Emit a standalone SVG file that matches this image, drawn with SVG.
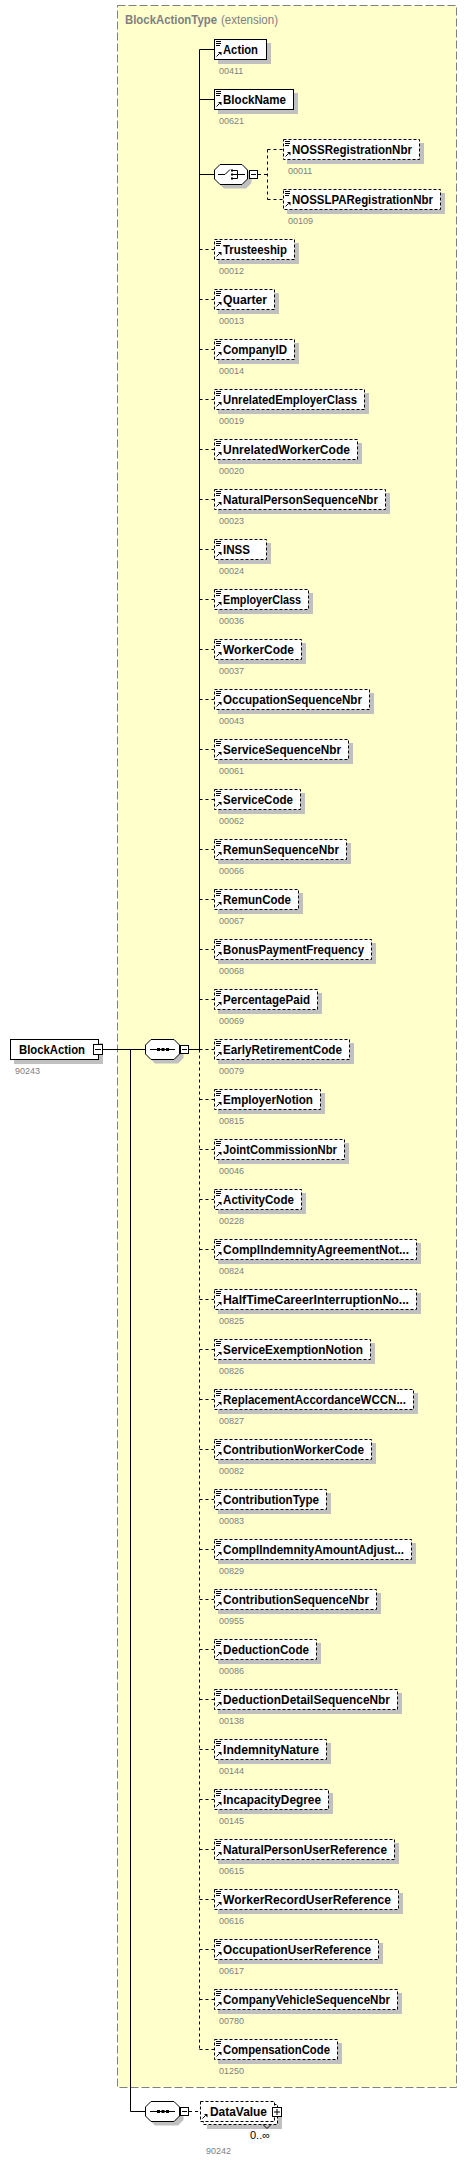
<svg xmlns="http://www.w3.org/2000/svg" xmlns:xlink="http://www.w3.org/1999/xlink" width="473" height="2163" viewBox="0 0 473 2163">
<style>
.box{fill:#fff;stroke:#000;stroke-width:1}
.opt{stroke-dasharray:3,2}
.sh{fill:#c0c0c0}
.nm{font-family:"Liberation Sans",Arial,sans-serif;font-weight:bold;font-size:12.5px;fill:#000}
.lb{font-family:"Liberation Sans",Arial,sans-serif;font-size:9px;fill:#808080}
.ln{stroke:#000;stroke-width:1;fill:none}
.dl{stroke-dasharray:3,3}
.ttl{font-family:"Liberation Sans",Arial,sans-serif;font-size:12.5px;fill:#808080}
</style>
<defs>
<g id="arr"><path class="ln" d="M2.5,17.5L5.5,14.5"/><path d="M4,13H7.5V16.5Z" fill="#000"/></g>
<g id="ico"><path class="ln" d="M2,2.5H7M2,4.5H7M2,6.5H6"/><use xlink:href="#arr"/></g>
<path id="oct35" d="M6,0.5H29L34.5,6V15L29,20.5H6L0.5,15V6Z"/>
<path id="oct34" d="M6,0.5H28L33.5,6V15L28,20.5H6L0.5,15V6Z"/>
<g id="seqico"><path class="ln" d="M5,10.5H30"/><rect x="12" y="9" width="3" height="3"/><rect x="16.5" y="9" width="3" height="3"/><rect x="21" y="9" width="3" height="3"/></g>
</defs>

<g id="type-BlockActionType">
<rect x="117.5" y="5.5" width="339" height="2082" fill="#ffffcc" stroke="#808080" stroke-dasharray="8,3"/>
<text class="ttl" x="125" y="24" font-weight="bold" textLength="92" lengthAdjust="spacingAndGlyphs">BlockActionType</text>
<text class="ttl" x="221" y="24" textLength="57" lengthAdjust="spacingAndGlyphs">(extension)</text>
</g>

<g id="connectors">
<path class="ln" d="M103,1049.5H145M189,1049.5H199.5M199.5,49.5V1049.5M199.5,49.5H214M199.5,99.5H214M199.5,174.5H214M130.5,1049.5V2111.5H145"/>
<path class="ln dl" d="M199.5,1049.5V2049.5M258,174.5H267.5M267.5,149.5V199.5M267.5,149.5H283M267.5,199.5H283M189,2111.5H200"/>
<path class="ln dl" d="M199.5,249.5H214M199.5,299.5H214M199.5,349.5H214M199.5,399.5H214M199.5,449.5H214M199.5,499.5H214M199.5,549.5H214M199.5,599.5H214M199.5,649.5H214M199.5,699.5H214M199.5,749.5H214M199.5,799.5H214M199.5,849.5H214M199.5,899.5H214M199.5,949.5H214M199.5,999.5H214M199.5,1049.5H214M199.5,1099.5H214M199.5,1149.5H214M199.5,1199.5H214M199.5,1249.5H214M199.5,1299.5H214M199.5,1349.5H214M199.5,1399.5H214M199.5,1449.5H214M199.5,1499.5H214M199.5,1549.5H214M199.5,1599.5H214M199.5,1649.5H214M199.5,1699.5H214M199.5,1749.5H214M199.5,1799.5H214M199.5,1849.5H214M199.5,1899.5H214M199.5,1949.5H214M199.5,1999.5H214M199.5,2049.5H214"/>
</g>

<g id="n-BlockAction" transform="translate(10,1039)">
<rect class="sh" x="4" y="4" width="89" height="21"/>
<rect class="box" x="0.5" y="0.5" width="88" height="20"/>
<text class="nm" x="9" y="15" textLength="66" lengthAdjust="spacingAndGlyphs">BlockAction</text>
<rect class="box" x="83.5" y="5.5" width="9" height="10"/>
<path class="ln" d="M85,10.5H91"/>
<text class="lb" x="5" y="35">90243</text>
</g>

<g id="n-seq-main" transform="translate(145,1039)">
<use xlink:href="#oct35" transform="translate(4,4)" class="sh"/>
<use xlink:href="#oct35" class="box"/>
<use xlink:href="#seqico"/>
<rect class="box" x="35.5" y="6.5" width="8" height="8"/>
<path class="ln" d="M37,10.5H42"/>
</g>

<g id="n-choice" transform="translate(214,164)">
<use xlink:href="#oct34" transform="translate(4,4)" class="sh"/>
<use xlink:href="#oct34" class="box"/>
<path class="ln" d="M4,10.5H11L16,5.5M19,6.5H23.5V14.5H19M19,10.5H31"/>
<rect x="17" y="5.5" width="2" height="2"/><rect x="17" y="9.5" width="2" height="2"/><rect x="17" y="13.5" width="2" height="2"/>
<rect class="box" x="35.5" y="6.5" width="8" height="8"/>
<path class="ln" d="M37,10.5H42"/>
</g>

<g id="n-Action" transform="translate(214,39)"><rect class="sh" x="4" y="4" width="53" height="21"/><rect class="box" x="0.5" y="0.5" width="52" height="20"/><use xlink:href="#ico"/><text class="nm" x="9" y="15" textLength="35" lengthAdjust="spacingAndGlyphs">Action</text><text class="lb" x="5" y="35">00411</text></g>
<g id="n-BlockName" transform="translate(214,89)"><rect class="sh" x="4" y="4" width="80" height="21"/><rect class="box" x="0.5" y="0.5" width="79" height="20"/><use xlink:href="#ico"/><text class="nm" x="9" y="15" textLength="63" lengthAdjust="spacingAndGlyphs">BlockName</text><text class="lb" x="5" y="35">00621</text></g>
<g id="n-NOSSRegistrationNbr" transform="translate(283,139)"><rect class="sh" x="4" y="4" width="137" height="21"/><rect class="box opt" x="0.5" y="0.5" width="136" height="20"/><use xlink:href="#ico"/><text class="nm" x="9" y="15" textLength="120" lengthAdjust="spacingAndGlyphs">NOSSRegistrationNbr</text><text class="lb" x="5" y="35">00011</text></g>
<g id="n-NOSSLPARegistrationNbr" transform="translate(283,189)"><rect class="sh" x="4" y="4" width="158" height="21"/><rect class="box opt" x="0.5" y="0.5" width="157" height="20"/><use xlink:href="#ico"/><text class="nm" x="9" y="15" textLength="141" lengthAdjust="spacingAndGlyphs">NOSSLPARegistrationNbr</text><text class="lb" x="5" y="35">00109</text></g>
<g id="n-Trusteeship" transform="translate(214,239)"><rect class="sh" x="4" y="4" width="81" height="21"/><rect class="box opt" x="0.5" y="0.5" width="80" height="20"/><use xlink:href="#ico"/><text class="nm" x="9" y="15" textLength="64" lengthAdjust="spacingAndGlyphs">Trusteeship</text><text class="lb" x="5" y="35">00012</text></g>
<g id="n-Quarter" transform="translate(214,289)"><rect class="sh" x="4" y="4" width="61" height="21"/><rect class="box opt" x="0.5" y="0.5" width="60" height="20"/><use xlink:href="#ico"/><text class="nm" x="9" y="15" textLength="44" lengthAdjust="spacingAndGlyphs">Quarter</text><text class="lb" x="5" y="35">00013</text></g>
<g id="n-CompanyID" transform="translate(214,339)"><rect class="sh" x="4" y="4" width="81" height="21"/><rect class="box opt" x="0.5" y="0.5" width="80" height="20"/><use xlink:href="#ico"/><text class="nm" x="9" y="15" textLength="64" lengthAdjust="spacingAndGlyphs">CompanyID</text><text class="lb" x="5" y="35">00014</text></g>
<g id="n-UnrelatedEmployerClass" transform="translate(214,389)"><rect class="sh" x="4" y="4" width="151" height="21"/><rect class="box opt" x="0.5" y="0.5" width="150" height="20"/><use xlink:href="#ico"/><text class="nm" x="9" y="15" textLength="134" lengthAdjust="spacingAndGlyphs">UnrelatedEmployerClass</text><text class="lb" x="5" y="35">00019</text></g>
<g id="n-UnrelatedWorkerCode" transform="translate(214,439)"><rect class="sh" x="4" y="4" width="144" height="21"/><rect class="box opt" x="0.5" y="0.5" width="143" height="20"/><use xlink:href="#ico"/><text class="nm" x="9" y="15" textLength="127" lengthAdjust="spacingAndGlyphs">UnrelatedWorkerCode</text><text class="lb" x="5" y="35">00020</text></g>
<g id="n-NaturalPersonSequenceNbr" transform="translate(214,489)"><rect class="sh" x="4" y="4" width="172" height="21"/><rect class="box opt" x="0.5" y="0.5" width="171" height="20"/><use xlink:href="#ico"/><text class="nm" x="9" y="15" textLength="155" lengthAdjust="spacingAndGlyphs">NaturalPersonSequenceNbr</text><text class="lb" x="5" y="35">00023</text></g>
<g id="n-INSS" transform="translate(214,539)"><rect class="sh" x="4" y="4" width="53" height="21"/><rect class="box opt" x="0.5" y="0.5" width="52" height="20"/><use xlink:href="#ico"/><text class="nm" x="9" y="15" textLength="27" lengthAdjust="spacingAndGlyphs">INSS</text><text class="lb" x="5" y="35">00024</text></g>
<g id="n-EmployerClass" transform="translate(214,589)"><rect class="sh" x="4" y="4" width="95" height="21"/><rect class="box opt" x="0.5" y="0.5" width="94" height="20"/><use xlink:href="#ico"/><text class="nm" x="9" y="15" textLength="78" lengthAdjust="spacingAndGlyphs">EmployerClass</text><text class="lb" x="5" y="35">00036</text></g>
<g id="n-WorkerCode" transform="translate(214,639)"><rect class="sh" x="4" y="4" width="88" height="21"/><rect class="box opt" x="0.5" y="0.5" width="87" height="20"/><use xlink:href="#ico"/><text class="nm" x="9" y="15" textLength="71" lengthAdjust="spacingAndGlyphs">WorkerCode</text><text class="lb" x="5" y="35">00037</text></g>
<g id="n-OccupationSequenceNbr" transform="translate(214,689)"><rect class="sh" x="4" y="4" width="156" height="21"/><rect class="box opt" x="0.5" y="0.5" width="155" height="20"/><use xlink:href="#ico"/><text class="nm" x="9" y="15" textLength="139" lengthAdjust="spacingAndGlyphs">OccupationSequenceNbr</text><text class="lb" x="5" y="35">00043</text></g>
<g id="n-ServiceSequenceNbr" transform="translate(214,739)"><rect class="sh" x="4" y="4" width="135" height="21"/><rect class="box opt" x="0.5" y="0.5" width="134" height="20"/><use xlink:href="#ico"/><text class="nm" x="9" y="15" textLength="118" lengthAdjust="spacingAndGlyphs">ServiceSequenceNbr</text><text class="lb" x="5" y="35">00061</text></g>
<g id="n-ServiceCode" transform="translate(214,789)"><rect class="sh" x="4" y="4" width="87" height="21"/><rect class="box opt" x="0.5" y="0.5" width="86" height="20"/><use xlink:href="#ico"/><text class="nm" x="9" y="15" textLength="70" lengthAdjust="spacingAndGlyphs">ServiceCode</text><text class="lb" x="5" y="35">00062</text></g>
<g id="n-RemunSequenceNbr" transform="translate(214,839)"><rect class="sh" x="4" y="4" width="133" height="21"/><rect class="box opt" x="0.5" y="0.5" width="132" height="20"/><use xlink:href="#ico"/><text class="nm" x="9" y="15" textLength="116" lengthAdjust="spacingAndGlyphs">RemunSequenceNbr</text><text class="lb" x="5" y="35">00066</text></g>
<g id="n-RemunCode" transform="translate(214,889)"><rect class="sh" x="4" y="4" width="85" height="21"/><rect class="box opt" x="0.5" y="0.5" width="84" height="20"/><use xlink:href="#ico"/><text class="nm" x="9" y="15" textLength="68" lengthAdjust="spacingAndGlyphs">RemunCode</text><text class="lb" x="5" y="35">00067</text></g>
<g id="n-BonusPaymentFrequency" transform="translate(214,939)"><rect class="sh" x="4" y="4" width="158" height="21"/><rect class="box opt" x="0.5" y="0.5" width="157" height="20"/><use xlink:href="#ico"/><text class="nm" x="9" y="15" textLength="141" lengthAdjust="spacingAndGlyphs">BonusPaymentFrequency</text><text class="lb" x="5" y="35">00068</text></g>
<g id="n-PercentagePaid" transform="translate(214,989)"><rect class="sh" x="4" y="4" width="104" height="21"/><rect class="box opt" x="0.5" y="0.5" width="103" height="20"/><use xlink:href="#ico"/><text class="nm" x="9" y="15" textLength="87" lengthAdjust="spacingAndGlyphs">PercentagePaid</text><text class="lb" x="5" y="35">00069</text></g>
<g id="n-EarlyRetirementCode" transform="translate(214,1039)"><rect class="sh" x="4" y="4" width="136" height="21"/><rect class="box opt" x="0.5" y="0.5" width="135" height="20"/><use xlink:href="#ico"/><text class="nm" x="9" y="15" textLength="119" lengthAdjust="spacingAndGlyphs">EarlyRetirementCode</text><text class="lb" x="5" y="35">00079</text></g>
<g id="n-EmployerNotion" transform="translate(214,1089)"><rect class="sh" x="4" y="4" width="107" height="21"/><rect class="box opt" x="0.5" y="0.5" width="106" height="20"/><use xlink:href="#ico"/><text class="nm" x="9" y="15" textLength="90" lengthAdjust="spacingAndGlyphs">EmployerNotion</text><text class="lb" x="5" y="35">00815</text></g>
<g id="n-JointCommissionNbr" transform="translate(214,1139)"><rect class="sh" x="4" y="4" width="131" height="21"/><rect class="box opt" x="0.5" y="0.5" width="130" height="20"/><use xlink:href="#ico"/><text class="nm" x="9" y="15" textLength="114" lengthAdjust="spacingAndGlyphs">JointCommissionNbr</text><text class="lb" x="5" y="35">00046</text></g>
<g id="n-ActivityCode" transform="translate(214,1189)"><rect class="sh" x="4" y="4" width="88" height="21"/><rect class="box opt" x="0.5" y="0.5" width="87" height="20"/><use xlink:href="#ico"/><text class="nm" x="9" y="15" textLength="71" lengthAdjust="spacingAndGlyphs">ActivityCode</text><text class="lb" x="5" y="35">00228</text></g>
<g id="n-ComplIndemnityAgreementNotion" transform="translate(214,1239)"><rect class="sh" x="4" y="4" width="203" height="21"/><rect class="box opt" x="0.5" y="0.5" width="202" height="20"/><use xlink:href="#ico"/><text class="nm" x="9" y="15" textLength="186" lengthAdjust="spacingAndGlyphs">ComplIndemnityAgreementNot...</text><text class="lb" x="5" y="35">00824</text></g>
<g id="n-HalfTimeCareerInterruptionNotion" transform="translate(214,1289)"><rect class="sh" x="4" y="4" width="203" height="21"/><rect class="box opt" x="0.5" y="0.5" width="202" height="20"/><use xlink:href="#ico"/><text class="nm" x="9" y="15" textLength="186" lengthAdjust="spacingAndGlyphs">HalfTimeCareerInterruptionNo...</text><text class="lb" x="5" y="35">00825</text></g>
<g id="n-ServiceExemptionNotion" transform="translate(214,1339)"><rect class="sh" x="4" y="4" width="157" height="21"/><rect class="box opt" x="0.5" y="0.5" width="156" height="20"/><use xlink:href="#ico"/><text class="nm" x="9" y="15" textLength="140" lengthAdjust="spacingAndGlyphs">ServiceExemptionNotion</text><text class="lb" x="5" y="35">00826</text></g>
<g id="n-ReplacementAccordanceWCCNotion" transform="translate(214,1389)"><rect class="sh" x="4" y="4" width="200" height="21"/><rect class="box opt" x="0.5" y="0.5" width="199" height="20"/><use xlink:href="#ico"/><text class="nm" x="9" y="15" textLength="183" lengthAdjust="spacingAndGlyphs">ReplacementAccordanceWCCN...</text><text class="lb" x="5" y="35">00827</text></g>
<g id="n-ContributionWorkerCode" transform="translate(214,1439)"><rect class="sh" x="4" y="4" width="158" height="21"/><rect class="box opt" x="0.5" y="0.5" width="157" height="20"/><use xlink:href="#ico"/><text class="nm" x="9" y="15" textLength="141" lengthAdjust="spacingAndGlyphs">ContributionWorkerCode</text><text class="lb" x="5" y="35">00082</text></g>
<g id="n-ContributionType" transform="translate(214,1489)"><rect class="sh" x="4" y="4" width="113" height="21"/><rect class="box opt" x="0.5" y="0.5" width="112" height="20"/><use xlink:href="#ico"/><text class="nm" x="9" y="15" textLength="96" lengthAdjust="spacingAndGlyphs">ContributionType</text><text class="lb" x="5" y="35">00083</text></g>
<g id="n-ComplIndemnityAmountAdjustment" transform="translate(214,1539)"><rect class="sh" x="4" y="4" width="198" height="21"/><rect class="box opt" x="0.5" y="0.5" width="197" height="20"/><use xlink:href="#ico"/><text class="nm" x="9" y="15" textLength="181" lengthAdjust="spacingAndGlyphs">ComplIndemnityAmountAdjust...</text><text class="lb" x="5" y="35">00829</text></g>
<g id="n-ContributionSequenceNbr" transform="translate(214,1589)"><rect class="sh" x="4" y="4" width="163" height="21"/><rect class="box opt" x="0.5" y="0.5" width="162" height="20"/><use xlink:href="#ico"/><text class="nm" x="9" y="15" textLength="146" lengthAdjust="spacingAndGlyphs">ContributionSequenceNbr</text><text class="lb" x="5" y="35">00955</text></g>
<g id="n-DeductionCode" transform="translate(214,1639)"><rect class="sh" x="4" y="4" width="103" height="21"/><rect class="box opt" x="0.5" y="0.5" width="102" height="20"/><use xlink:href="#ico"/><text class="nm" x="9" y="15" textLength="86" lengthAdjust="spacingAndGlyphs">DeductionCode</text><text class="lb" x="5" y="35">00086</text></g>
<g id="n-DeductionDetailSequenceNbr" transform="translate(214,1689)"><rect class="sh" x="4" y="4" width="184" height="21"/><rect class="box opt" x="0.5" y="0.5" width="183" height="20"/><use xlink:href="#ico"/><text class="nm" x="9" y="15" textLength="167" lengthAdjust="spacingAndGlyphs">DeductionDetailSequenceNbr</text><text class="lb" x="5" y="35">00138</text></g>
<g id="n-IndemnityNature" transform="translate(214,1739)"><rect class="sh" x="4" y="4" width="113" height="21"/><rect class="box opt" x="0.5" y="0.5" width="112" height="20"/><use xlink:href="#ico"/><text class="nm" x="9" y="15" textLength="96" lengthAdjust="spacingAndGlyphs">IndemnityNature</text><text class="lb" x="5" y="35">00144</text></g>
<g id="n-IncapacityDegree" transform="translate(214,1789)"><rect class="sh" x="4" y="4" width="115" height="21"/><rect class="box opt" x="0.5" y="0.5" width="114" height="20"/><use xlink:href="#ico"/><text class="nm" x="9" y="15" textLength="98" lengthAdjust="spacingAndGlyphs">IncapacityDegree</text><text class="lb" x="5" y="35">00145</text></g>
<g id="n-NaturalPersonUserReference" transform="translate(214,1839)"><rect class="sh" x="4" y="4" width="181" height="21"/><rect class="box opt" x="0.5" y="0.5" width="180" height="20"/><use xlink:href="#ico"/><text class="nm" x="9" y="15" textLength="164" lengthAdjust="spacingAndGlyphs">NaturalPersonUserReference</text><text class="lb" x="5" y="35">00615</text></g>
<g id="n-WorkerRecordUserReference" transform="translate(214,1889)"><rect class="sh" x="4" y="4" width="185" height="21"/><rect class="box opt" x="0.5" y="0.5" width="184" height="20"/><use xlink:href="#ico"/><text class="nm" x="9" y="15" textLength="168" lengthAdjust="spacingAndGlyphs">WorkerRecordUserReference</text><text class="lb" x="5" y="35">00616</text></g>
<g id="n-OccupationUserReference" transform="translate(214,1939)"><rect class="sh" x="4" y="4" width="165" height="21"/><rect class="box opt" x="0.5" y="0.5" width="164" height="20"/><use xlink:href="#ico"/><text class="nm" x="9" y="15" textLength="148" lengthAdjust="spacingAndGlyphs">OccupationUserReference</text><text class="lb" x="5" y="35">00617</text></g>
<g id="n-CompanyVehicleSequenceNbr" transform="translate(214,1989)"><rect class="sh" x="4" y="4" width="184" height="21"/><rect class="box opt" x="0.5" y="0.5" width="183" height="20"/><use xlink:href="#ico"/><text class="nm" x="9" y="15" textLength="167" lengthAdjust="spacingAndGlyphs">CompanyVehicleSequenceNbr</text><text class="lb" x="5" y="35">00780</text></g>
<g id="n-CompensationCode" transform="translate(214,2039)"><rect class="sh" x="4" y="4" width="124" height="21"/><rect class="box opt" x="0.5" y="0.5" width="123" height="20"/><use xlink:href="#ico"/><text class="nm" x="9" y="15" textLength="107" lengthAdjust="spacingAndGlyphs">CompensationCode</text><text class="lb" x="5" y="35">01250</text></g>

<g id="n-seq-data" transform="translate(145,2101)">
<use xlink:href="#oct35" transform="translate(4,4)" class="sh"/>
<use xlink:href="#oct35" class="box"/>
<use xlink:href="#seqico"/>
<rect class="box" x="35.5" y="6.5" width="8" height="8"/>
<path class="ln" d="M37,10.5H42"/>
</g>

<g id="n-DataValue" transform="translate(200,2101)">
<rect class="sh" x="7" y="7" width="75" height="21"/>
<rect class="box opt" x="3.5" y="3.5" width="74" height="20"/>
<rect class="box opt" x="0.5" y="0.5" width="74" height="20"/>
<use xlink:href="#arr"/>
<text class="nm" x="10" y="15" textLength="57" lengthAdjust="spacingAndGlyphs">DataValue</text>
<rect class="box" x="72.5" y="6.5" width="9" height="9"/>
<path class="ln" d="M74,11H80M77,8V14"/>
<path class="ln" d="M63,23.5L67,27.5L71,23.5"/>
<text x="50" y="38" font-family="Liberation Sans, Arial, sans-serif" font-size="11" fill="#000">0..∞</text>
<text class="lb" x="6" y="53">90242</text>
</g>
</svg>
